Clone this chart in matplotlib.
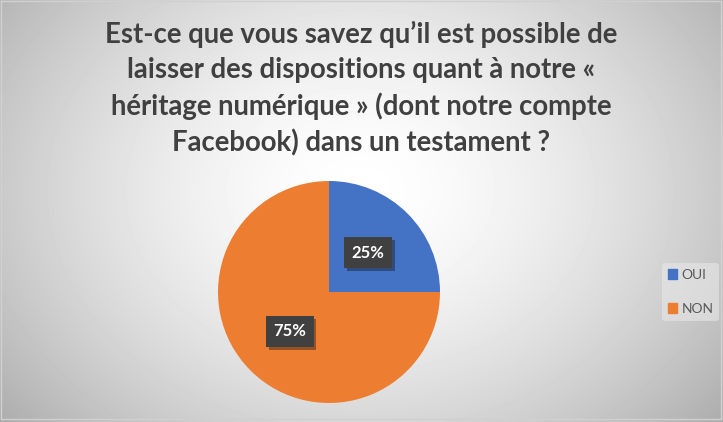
import numpy as np
import matplotlib
matplotlib.use("Agg")
import matplotlib.pyplot as plt
import matplotlib.patheffects as pe

labels = ["OUI", "NON"]
values = [25, 75]
colors = ["#4472c4", "#ed7d31"]
title = ("Est-ce que vous savez qu\u2019il est possible de\n"
         "laisser des dispositions quant \u00e0 notre \u00ab\n"
         "h\u00e9ritage num\u00e9rique \u00bb (dont notre compte\n"
         "Facebook) dans un testament ?")

plt.rcParams['font.family'] = ['Lato', 'DejaVu Sans']

fig = plt.figure(figsize=(7.23, 4.22), dpi=100)

# radial gradient background
bg = fig.add_axes([0, 0, 1, 1])
yy, xx = np.mgrid[0:422, 0:723]
r = np.sqrt(((xx - 360) / 430.0) ** 2 + ((yy - 190) / 330.0) ** 2)
shade = np.clip(1.0 - 0.28 * r ** 1.6, 0, 1)
bg.imshow(shade, cmap="gray", vmin=0, vmax=1, aspect="auto", extent=[0, 723, 422, 0])
bg.set_xlim(0, 723)
bg.set_ylim(422, 0)
bg.axis("off")
bg.plot([1, 1, 721, 721, 1], [1, 419, 419, 1, 1], color="#d0d0d0", lw=1)

fig.text(0.5, 0.95, title, ha="center", va="top", fontsize=19.8, fontweight="bold",
         color="#404040", linespacing=1.42)

ax = fig.add_axes([(329 - 111) / 723, 1 - (292 + 111) / 422, 222 / 723, 222 / 422])
wedges, texts = ax.pie(values, colors=colors, startangle=90, counterclock=False,
                       wedgeprops=dict(linewidth=0))
ax.set_xlim(-1, 1)
ax.set_ylim(-1, 1)
ax.set_aspect("equal")

for w, v in zip(wedges, values):
    ang = np.deg2rad((w.theta1 + w.theta2) / 2)
    x, y = 0.5 * np.cos(ang), 0.5 * np.sin(ang)
    t = ax.text(x, y, f"{v}%", ha="center", va="center", fontsize=12, fontweight="bold",
                color="white",
                bbox=dict(boxstyle="square,pad=0.45", fc="#404040", ec="none"))
    t.get_bbox_patch().set_path_effects([pe.SimplePatchShadow(offset=(2, -2), alpha=0.4),
                                         pe.Normal()])

handles = [plt.Rectangle((0, 0), 1, 1, color=c) for c in colors]
leg = fig.legend(handles, labels, loc="center left", bbox_to_anchor=(655 / 723, 1 - 292 / 422),
                 frameon=True, fontsize=10, handlelength=0.7, handleheight=0.7,
                 handletextpad=0.3, labelspacing=1.6, borderpad=0.4)
leg.get_frame().set_facecolor("#e8e8e8")
leg.get_frame().set_edgecolor("none")
leg.get_frame().set_alpha(0.6)
for t in leg.get_texts():
    t.set_color("#595959")

fig.savefig("out.png", dpi=100)
